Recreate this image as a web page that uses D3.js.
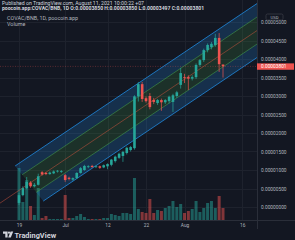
<!DOCTYPE html>
<html>
<head>
<meta charset="utf-8">
<script src="https://cdn.jsdelivr.net/npm/d3@7"></script>
<style>
html, body { margin: 0; padding: 0; background: #131722; overflow: hidden; }
svg { display: block; }
text { font-family: Roboto, "Liberation Sans", sans-serif; }
</style>
</head>
<body>
<script>
// daily candles, COVAC/BNB, first one on 19 Jun 2021
var firstDay = "2021-06-19";
var opens  = [1.1e-6, 3.2e-6, 5.1e-6, 6.6e-6, 5.6e-6, 6.0e-6, 9.4e-6, 9.2e-6, 8.9e-6, 9.1e-6,
              9.6e-6, 9.5e-6, 8.6e-6, 7.9e-6, 7.4e-6, 7.8e-6, 9.2e-6, 10.0e-6, 10.8e-6, 11.1e-6,
              10.8e-6, 11.0e-6, 10.7e-6, 11.0e-6, 11.4e-6, 12.4e-6, 13.3e-6, 13.8e-6, 14.6e-6, 15.4e-6,
              15.9e-6, 29.9e-6, 33.2e-6, 29.4e-6, 30.0e-6, 28.9e-6, 28.1e-6, 28.9e-6, 28.3e-6, 28.6e-6,
              28.4e-6, 30.0e-6, 33.0e-6, 35.1e-6, 35.1e-6, 34.7e-6, 35.1e-6, 38.4e-6, 39.7e-6, 42.4e-6,
              43.2e-6, 43.8e-6, 45.7e-6, 38.50e-6];
var highs  = [3.8e-6, 5.6e-6, 8.1e-6, 7.0e-6, 6.5e-6, 9.0e-6, 9.7e-6, 9.5e-6, 9.6e-6, 9.9e-6,
              10.0e-6, 10.0e-6, 8.9e-6, 8.2e-6, 8.0e-6, 9.4e-6, 10.8e-6, 11.4e-6, 11.3e-6, 11.4e-6,
              11.2e-6, 11.2e-6, 11.5e-6, 11.8e-6, 13.0e-6, 13.9e-6, 14.7e-6, 15.2e-6, 16.3e-6, 16.5e-6,
              30.2e-6, 33.8e-6, 33.8e-6, 29.9e-6, 30.8e-6, 29.5e-6, 29.2e-6, 29.3e-6, 29.2e-6, 30.1e-6,
              30.6e-6, 31.4e-6, 37.6e-6, 36.0e-6, 35.6e-6, 35.6e-6, 38.8e-6, 40.0e-6, 42.8e-6, 44.2e-6,
              44.6e-6, 46.8e-6, 47.0e-6, 38.50e-6];
var lows   = [0.5e-6, 2.9e-6, 4.8e-6, 5.2e-6, 5.3e-6, 5.8e-6, 8.5e-6, 8.6e-6, 8.7e-6, 8.9e-6,
              9.3e-6, 9.2e-6, 6.8e-6, 7.2e-6, 7.1e-6, 7.6e-6, 9.0e-6, 9.8e-6, 10.5e-6, 10.6e-6,
              10.5e-6, 10.3e-6, 10.5e-6, 10.2e-6, 11.0e-6, 12.0e-6, 13.0e-6, 12.2e-6, 14.2e-6, 15.0e-6,
              15.5e-6, 28.5e-6, 28.4e-6, 28.2e-6, 26.4e-6, 27.8e-6, 27.6e-6, 26.0e-6, 27.8e-6, 28.0e-6,
              25.7e-6, 29.5e-6, 32.0e-6, 33.5e-6, 31.6e-6, 34.2e-6, 34.6e-6, 37.9e-6, 39.2e-6, 41.8e-6,
              42.6e-6, 43.3e-6, 36.5e-6, 34.97e-6];
var closes = [3.2e-6, 5.1e-6, 6.8e-6, 5.6e-6, 6.0e-6, 8.3e-6, 8.8e-6, 8.9e-6, 9.3e-6, 9.6e-6,
              9.8e-6, 9.7e-6, 7.3e-6, 7.6e-6, 7.8e-6, 9.2e-6, 10.5e-6, 11.1e-6, 11.0e-6, 10.8e-6,
              11.0e-6, 10.6e-6, 11.3e-6, 11.6e-6, 12.8e-6, 13.6e-6, 14.4e-6, 14.9e-6, 16.0e-6, 16.2e-6,
              29.9e-6, 33.2e-6, 29.2e-6, 28.6e-6, 27.0e-6, 28.4e-6, 28.9e-6, 28.3e-6, 28.9e-6, 29.8e-6,
              30.2e-6, 31.0e-6, 36.2e-6, 34.9e-6, 34.7e-6, 35.1e-6, 38.4e-6, 39.7e-6, 42.4e-6, 43.8e-6,
              44.1e-6, 45.7e-6, 38.6e-6, 38.01e-6];
var volumes = [52, 18, 40, 14, 5, 32, 2, 4, 1, 1,
               1, 1, 25, 2, 2, 4, 6, 3, 1, 1,
               1, 1, 2, 2, 6, 5, 4, 7, 7, 6,
               42, 11, 8, 7, 21, 7, 10, 9, 12, 14,
               19, 13, 16, 7, 9, 11, 19, 8, 12, 17,
               19, 12, 24, 12];

var priceTicks = [0, 0.000005, 0.00001, 0.000015, 0.00002, 0.000025, 0.00003, 0.000035, 0.00004, 0.000045, 0.00005];
var timeTicks = ["2021-06-19", "2021-07-01", "2021-07-12", "2021-07-22", "2021-08-01", "2021-08-16"];
var timeTickLabels = ["19", "Jul", "12", "22", "Aug", "16"];

// parallel channel: upper line, then the shift (days, price) to the lower line
var channelUpper = [["2021-06-18", 0.0000111], ["2021-08-21", 0.0000558]];
var channelShift = [7.3, -0.0000095];

var headerLine = "Published on TradingView.com, August 11, 2021 10:00:22 +07";
var symbolTitle = "poocoin.app:COVAC/BNB, 1D";
var legendTitle = "COVAC/BNB, 1D, poocoin.app";

var W = 295, H = 240;
var paneRight = 257, paneBottom = 220;
var parse = d3.utcParse("%Y-%m-%d");
var day = 864e5;

var t0 = parse(firstDay);
var candles = closes.map(function (c, i) {
    return { date: new Date(+t0 + i * day), o: opens[i], h: highs[i], l: lows[i], c: c, v: volumes[i] };
});
var last = candles[candles.length - 1];

var x = d3.scaleUtc().domain([candles[0].date, last.date]).range([19, 223]);
var y = d3.scaleLinear().domain([0, 0.00005]).range([207, 22]);
var vy = d3.scaleLinear().domain([0, 60]).range([paneBottom, paneBottom - 60]);

var up = "#26a69a", down = "#ef5350";
var txt = "#b2b5be";

var svg = d3.select("body").append("svg").attr("width", W).attr("height", H);

svg.append("clipPath").attr("id", "pane")
    .append("rect").attr("x", 0).attr("y", 0).attr("width", paneRight).attr("height", paneBottom);

// grid
var grid = svg.append("g").attr("clip-path", "url(#pane)");
grid.selectAll(".hg").data(priceTicks).enter().append("line")
    .attr("x1", 0).attr("x2", paneRight)
    .attr("y1", d => Math.round(y(d)) + 0.5).attr("y2", d => Math.round(y(d)) + 0.5)
    .attr("stroke", "#1e222d").attr("stroke-width", 1);
grid.selectAll(".vg").data(timeTicks).enter().append("line")
    .attr("x1", d => Math.round(x(parse(d))) + 0.5).attr("x2", d => Math.round(x(parse(d))) + 0.5)
    .attr("y1", 0).attr("y2", paneBottom)
    .attr("stroke", "#1e222d").attr("stroke-width", 1);

var plot = svg.append("g").attr("clip-path", "url(#pane)");

// volume overlay
plot.selectAll(".vol").data(candles).enter().append("rect")
    .attr("x", d => x(d.date) - 1.5)
    .attr("width", 3)
    .attr("y", d => vy(d.v))
    .attr("height", d => vy(0) - vy(d.v))
    .attr("fill", d => d.c >= d.o ? up : down)
    .attr("fill-opacity", 0.5);

// channel lines: k = 0 upper, 0.5 middle, 1 lower
function chLine(k) {
    var a = channelUpper[0], b = channelUpper[1];
    return [
        [x(new Date(+parse(a[0]) + k * channelShift[0] * day)), y(a[1] + k * channelShift[1])],
        [x(new Date(+parse(b[0]) + k * channelShift[0] * day)), y(b[1] + k * channelShift[1])]
    ];
}
function strip(k1, k2) {
    var a = chLine(k1), b = chLine(k2);
    return "M" + a[0] + "L" + a[1] + "L" + b[1] + "L" + b[0] + "Z";
}
var ch = plot.append("g");
ch.append("path").attr("d", strip(0, 0.25)).attr("fill", "#2196f3").attr("fill-opacity", 0.2);
ch.append("path").attr("d", strip(0.75, 1)).attr("fill", "#2196f3").attr("fill-opacity", 0.2);
ch.append("path").attr("d", strip(0.25, 0.75)).attr("fill", "#4caf50").attr("fill-opacity", 0.17);

[0, 1].forEach(function (k) {
    var p = chLine(k);
    ch.append("line").attr("x1", p[0][0]).attr("y1", p[0][1]).attr("x2", p[1][0]).attr("y2", p[1][1])
        .attr("stroke", "#2196f3").attr("stroke-width", 0.8).attr("stroke-opacity", 0.9);
});
[0.25, 0.75].forEach(function (k) {
    var p = chLine(k);
    ch.append("line").attr("x1", p[0][0]).attr("y1", p[0][1]).attr("x2", p[1][0]).attr("y2", p[1][1])
        .attr("stroke", "#4caf50").attr("stroke-width", 0.7).attr("stroke-opacity", 0.7);
});
// middle line, extended to the left edge of the pane
var mid = chLine(0.5);
var slope = (mid[1][1] - mid[0][1]) / (mid[1][0] - mid[0][0]);
ch.append("line")
    .attr("x1", 0).attr("y1", mid[0][1] - slope * mid[0][0])
    .attr("x2", mid[1][0]).attr("y2", mid[1][1])
    .attr("stroke", "#d9573f").attr("stroke-width", 0.6).attr("stroke-opacity", 0.8);

// last price line
plot.append("line")
    .attr("x1", 0).attr("x2", paneRight)
    .attr("y1", y(last.c)).attr("y2", y(last.c))
    .attr("stroke", down).attr("stroke-width", 0.6).attr("stroke-dasharray", "1,1.5").attr("stroke-opacity", 0.55);

// candles
var cg = plot.selectAll(".candle").data(candles).enter().append("g");
cg.append("line")
    .attr("x1", d => x(d.date)).attr("x2", d => x(d.date))
    .attr("y1", d => y(d.h)).attr("y2", d => y(d.l))
    .attr("stroke", d => d.c >= d.o ? up : down).attr("stroke-width", 0.7);
cg.append("rect")
    .attr("x", d => x(d.date) - 1.3)
    .attr("width", 2.6)
    .attr("y", d => y(Math.max(d.o, d.c)))
    .attr("height", d => Math.max(0.8, Math.abs(y(d.o) - y(d.c))))
    .attr("fill", d => d.c >= d.o ? up : down);

// borders
svg.append("line").attr("x1", paneRight + 0.5).attr("x2", paneRight + 0.5).attr("y1", 0).attr("y2", 229)
    .attr("stroke", "#2a2e39");
svg.append("line").attr("x1", 0).attr("x2", W).attr("y1", paneBottom + 0.5).attr("y2", paneBottom + 0.5)
    .attr("stroke", "#2a2e39");

// price axis
var yAxis = d3.axisRight(y).tickValues(priceTicks).tickSize(0).tickPadding(4)
    .tickFormat(d => d.toFixed(8));
var ya = svg.append("g").attr("transform", "translate(" + paneRight + ",0)").call(yAxis);
ya.select(".domain").remove();
ya.selectAll("text").attr("fill", txt).attr("font-size", "4.8px").attr("font-family", "Roboto, sans-serif");

// time axis
var xAxis = d3.axisBottom(x).tickValues(timeTicks.map(parse)).tickSize(0).tickPadding(3.5)
    .tickFormat((d, i) => timeTickLabels[i]);
var xa = svg.append("g").attr("transform", "translate(0," + paneBottom + ")").call(xAxis);
xa.select(".domain").remove();
xa.selectAll("text").attr("fill", txt).attr("font-size", "4.8px").attr("font-family", "Roboto, sans-serif");

// currency box
svg.append("rect").attr("x", 266).attr("y", 14).attr("width", 17).attr("height", 6).attr("rx", 1.5)
    .attr("fill", "#131722").attr("stroke", "#434651").attr("stroke-width", 0.6);
svg.append("text").attr("x", 274.5).attr("y", 18.6).attr("text-anchor", "middle")
    .attr("fill", txt).attr("font-size", "4.3px").text("USD");

// last price label
svg.append("rect").attr("x", paneRight).attr("y", y(last.c) - 3).attr("width", 37).attr("height", 6.4)
    .attr("fill", down);
svg.append("text").attr("x", paneRight + 4).attr("y", y(last.c) + 1.7)
    .attr("fill", "#ffffff").attr("font-size", "4.8px").text(last.c.toFixed(8));

// header + legend
var f = v => v.toFixed(8);
svg.append("text").attr("x", 2).attr("y", 4.6).attr("fill", "#d1d4dc").attr("font-size", "5.2px").text(headerLine);
svg.append("text").attr("x", 2).attr("y", 10.4).attr("fill", "#d1d4dc").attr("font-size", "5.1px")
    .attr("font-weight", "bold")
    .text(symbolTitle + " O:" + f(last.o) + " H:" + f(last.h) + " L:" + f(last.l) + " C:" + f(last.c));
svg.append("text").attr("x", 7).attr("y", 20).attr("fill", txt).attr("font-size", "5.4px").text(legendTitle);
svg.append("text").attr("x", 7).attr("y", 25.8).attr("fill", txt).attr("font-size", "5.4px").text("Volume");

// TradingView logo
var logo = svg.append("g").attr("transform", "translate(3,231.5)").attr("fill", "#d1d4dc");
logo.append("path").attr("d", "M0,0H4.6V6H2.3V2.3H0Z");
logo.append("circle").attr("cx", 6).attr("cy", 1.2).attr("r", 1.1);
logo.append("path").attr("d", "M5.2,6L7.6,0H10.2L7.8,6Z");
svg.append("text").attr("x", 14.5).attr("y", 237.6).attr("fill", "#d1d4dc").attr("font-size", "7.4px")
    .attr("font-weight", "bold").text("TradingView");
</script>
</body>
</html>
